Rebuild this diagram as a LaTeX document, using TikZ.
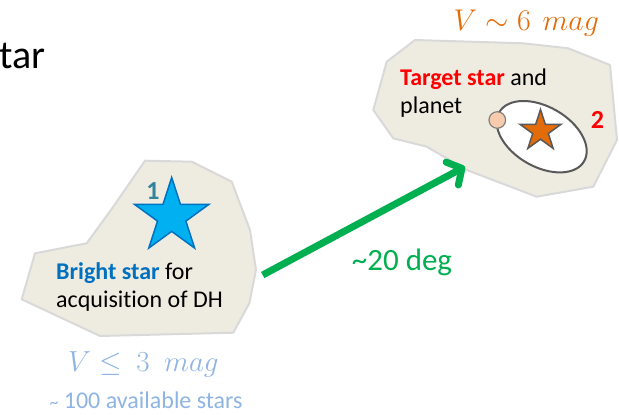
\RequirePackage{fix-cm}
\documentclass[tikz,border=0pt]{standalone}
\usepackage{fontspec}
\setmainfont{Carlito}[Ligatures=NoCommon]
\usetikzlibrary{shapes.geometric,arrows.meta}
\definecolor{blobfill}{HTML}{EEECE1}
\definecolor{blobline}{HTML}{D9D9D9}
\definecolor{starblue}{HTML}{00B0F0}
\definecolor{starblueline}{HTML}{0070C0}
\definecolor{brightblue}{HTML}{0070C0}
\definecolor{teal1}{HTML}{31849B}
\definecolor{lightblue}{HTML}{8EB4E3}
\definecolor{orangestar}{HTML}{E36C09}
\definecolor{darkgray}{HTML}{595959}
\definecolor{peach}{HTML}{F8CBAD}
\definecolor{arrowgreen}{HTML}{00B050}
\tikzset{
  blob/.style={fill=blobfill, draw=blobline, line width=2pt, line join=round},
  txt/.style={inner sep=0pt, anchor=base west, font=\fontsize{24}{28.4}\selectfont},
  mathtxt/.style={inner sep=0pt, anchor=base west, font=\fontsize{29}{32}\selectfont},
  starnode/.style={star, star points=5, star point ratio=2.618, inner sep=0pt, line width=1.5pt},
  greenarrow/.style={draw=arrowgreen, line width=7pt, -{Straight Barb[length=11pt,width=26pt,round]}},
}
\begin{document}
\begin{tikzpicture}[x=1pt,y=-1pt]
\useasboundingbox (0,0) rectangle (619,415);
% title fragment
\node[inner sep=0pt, anchor=base east, font=\fontsize{40}{44}\selectfont] (title) at (46,68.3) {tar};
% left blob
\draw[blob] (145,160.7) -- (191.7,161.7) -- (231.7,181.7) -- (250,230) -- (256,270)
  -- (249.3,303.3) -- (233.3,332.7) -- (100,336) -- (21.7,299.3) -- (35,253.3)
  -- (86.7,243.3) -- (113.3,206.7) -- cycle;
% right blob
\draw[blob] (415,40) -- (523.3,43.3) -- (568.3,48.3) -- (610,65) -- (617,140)
  -- (593.3,186.7) -- (536.7,196.7) -- (466.7,170) -- (426.7,146.7) -- (393.3,138.3)
  -- (373.3,110) -- (386.7,61.7) -- cycle;
% left star
\node[starnode, fill=starblue, draw=starblueline, minimum size=78pt] (star1) at (171.7,216.5) {};
\node[inner sep=0pt, font=\bfseries\fontsize{26}{30}\selectfont, text=teal1] (num1) at (153,191) {1};
\node[txt] (brighttxta) at (56,279.3) {\textcolor{brightblue}{\textbf{Bright star}} for};
\node[txt] (brighttxtb) at (56,307.7) {acquisition of DH};
\node[mathtxt, text=lightblue] (vmag1) at (68,371.7) {$V\leq\ 3\ \;mag$};
\node[txt, text=lightblue] (avail) at (49.3,408.7) {{\fontsize{18}{20}\selectfont\textasciitilde}\ 100 available stars};
% right content
\node[mathtxt, text=orangestar, font=\fontsize{30}{32}\selectfont] (vmag2) at (453.3,30.7) {$V\sim 6\ \,mag$};
\node[txt] (targettxta) at (400,85) {\textcolor{red}{\textbf{Target star}} and};
\node[txt] (targettxtb) at (400,113.3) {planet};
\node[ellipse, draw=darkgray, fill=white, line width=2pt, minimum width=98pt, minimum height=60pt, inner sep=0pt, rotate=-30] (orbit) at (541.7,136.7) {};
\node[circle, draw=gray, fill=peach, line width=1.2pt, minimum size=16.6pt, inner sep=0pt] (planet) at (497.3,120) {};
\node[starnode, fill=orangestar, draw=darkgray, minimum size=43pt] (star2) at (540.5,131) {};
\node[inner sep=0pt, font=\bfseries\fontsize{26}{30}\selectfont, text=red] (num2) at (597.5,120) {2};
% arrow
\coordinate (arrowtail) at (262.7,275);
\coordinate (arrowtip) at (465,166.7);
\draw[greenarrow] (arrowtail) -- (arrowtip);
\node[inner sep=0pt, anchor=base west, text=arrowgreen, font=\fontsize{31}{34}\selectfont] (deg) at (351.7,270.7) {\textasciitilde 20 deg};
\end{tikzpicture}
\end{document}
